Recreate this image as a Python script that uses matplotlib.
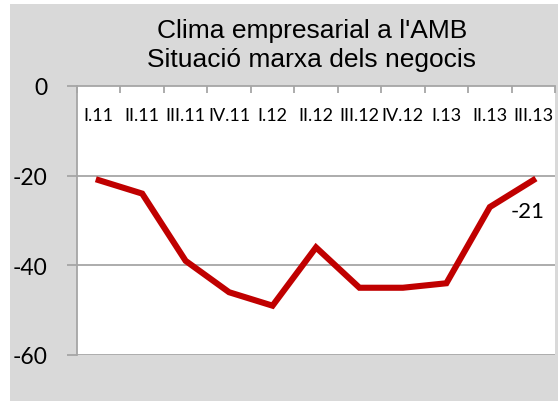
import matplotlib.pyplot as plt
from matplotlib.patches import Rectangle

# data
periods = ['I.11', 'II.11', 'III.11', 'IV.11', 'I.12', 'II.12',
           'III.12', 'IV.12', 'I.13', 'II.13', 'III.13']
situacio = [-21, -24, -39, -46, -49, -36, -45, -45, -44, -27, -21]
y_ticks = [0, -20, -40, -60]

grey = '#A6A6A6'
red = '#C00000'

fig = plt.figure(figsize=(5.58, 4.02), dpi=100)
fig.patch.set_facecolor('white')
# grey chart area
fig.patches.append(Rectangle((10 / 558, 0), 1, 1 - 5 / 402,
                             transform=fig.transFigure,
                             facecolor='#D9D9D9', edgecolor='none', zorder=-5))

ax = fig.add_axes([77 / 558, 46 / 402, 478 / 558, 269 / 402])
ax.set_zorder(2)
ax.set_facecolor('white')

x = list(range(len(periods)))
ax.plot(x, situacio, color=red, lw=4.4, solid_joinstyle='miter', zorder=3)
ax.annotate(str(situacio[-1]), (x[-1], situacio[-1]), xytext=(-4, -22),
            textcoords='offset points', ha='center', va='center',
            fontsize=16, family='Lato', color='black')

ax.set_xlim(-0.5, len(periods) - 0.5)
ax.set_ylim(-60, 0)

# horizontal gridlines
for v in y_ticks[1:]:
    ax.axhline(v, color=grey, lw=1.3, zorder=1)

for s in ['right', 'bottom']:
    ax.spines[s].set_visible(False)
ax.spines['top'].set_color(grey)
ax.spines['top'].set_linewidth(1.3)
ax.spines['left'].set_color(grey)
ax.spines['left'].set_linewidth(1.3)

ax.set_yticks(y_ticks)
ax.set_yticklabels([str(v) for v in y_ticks], fontsize=16.5, family='Lato')
ax.tick_params(axis='y', direction='out', length=7, width=1.3, color=grey, pad=14)

# category labels inside the plot, just under the zero line
ax.set_xticks(x)
ax.set_xticklabels(periods, fontsize=13, family='Lato')
ax.tick_params(axis='x', which='major', bottom=False, top=False,
               labelbottom=False, labeltop=True, length=0, pad=-27)
ax.set_xticks([i - 0.5 for i in range(len(periods) + 1)], minor=True)
ax.tick_params(axis='x', which='minor', bottom=False, top=True,
               direction='in', length=5, width=1.3, color=grey)

fig.text(312 / 558, 1 - 31 / 402, "Clima empresarial a l'AMB", ha='center',
         va='center', fontsize=19, family='Liberation Sans')
fig.text(312 / 558, 1 - 60 / 402, 'Situació marxa dels negocis', ha='center',
         va='center', fontsize=19, family='Liberation Sans')

fig.savefig('out.png', dpi=100)
